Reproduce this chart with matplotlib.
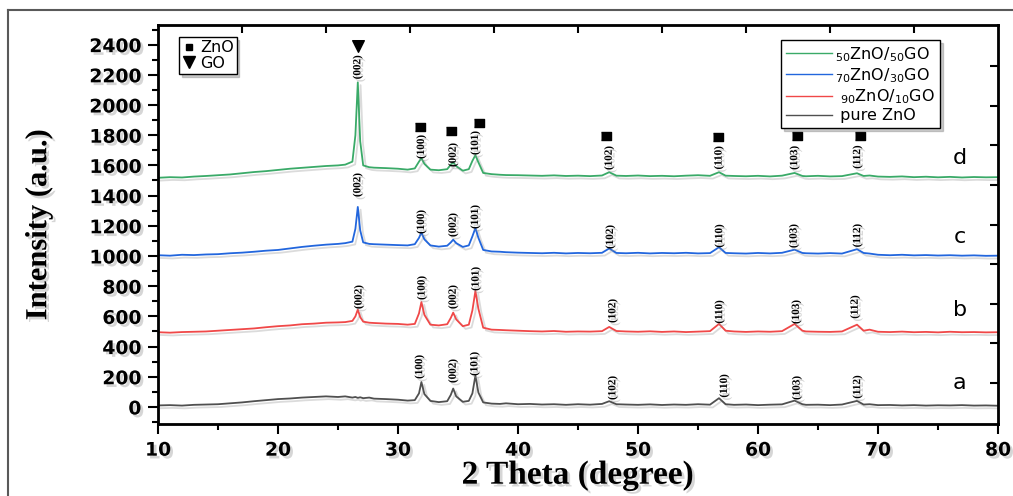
import matplotlib
matplotlib.use("Agg")
import matplotlib.pyplot as plt
import matplotlib.patheffects as pe
from matplotlib.lines import Line2D
from matplotlib.ticker import MultipleLocator

# 2 theta grid (degree), shared by all four patterns
two_theta = [10, 11, 12, 13, 14, 15, 16, 17, 18, 19, 20, 21, 22, 23, 24, 25,
             25.6, 26.2, 26.45, 26.65, 26.85, 27.1, 27.6,
             28, 29, 30,
             30.8, 31.4, 31.75, 31.95, 32.2, 32.7, 33.4,
             34.1, 34.4, 34.6, 34.85, 35.4, 35.9,
             36.2, 36.45, 36.7, 37.1, 37.8, 38.5, 39,
             40, 41, 42, 43, 44, 45, 46, 47,
             47.6, 48.2,
             49, 50, 51, 52, 53, 54, 55, 56,
             56.75, 57.3,
             58, 59, 60, 61, 62,
             63.05, 63.7,
             64, 65, 66, 67,
             68.25, 68.8, 69.3,
             70, 71, 72, 73, 74, 75, 76, 77, 78, 79, 80]

# (a) pure ZnO
pure_zno = [10, 12, 9, 14, 16, 18, 24, 30, 38, 45, 52, 56, 62, 66, 70, 66,
            70, 62, 66, 60, 64, 58, 62,
            55, 52, 48,
            42, 45, 90, 165, 85, 40, 32,
            38, 80, 122, 70, 34, 40,
            90, 208, 95, 30, 22, 20, 24,
            18, 20, 16, 18, 14, 18, 15, 20,
            38, 18,
            16, 14, 17, 13, 16, 14, 18, 15,
            58, 18,
            14, 16, 12, 15, 17,
            42, 18,
            14, 15, 12, 16,
            40, 16, 18,
            12, 13, 10, 12, 9, 11, 10, 12, 9, 10, 8]

# (b) 90ZnO/10GO
zno90_go10 = [495, 492, 496, 498, 500, 505, 510, 515, 520, 528, 535, 540, 548, 552, 558, 560,
              562, 570, 600, 645, 595, 565, 558,
              556, 552, 550,
              545, 550, 620, 695, 610, 545, 540,
              548, 590, 625, 580, 535, 545,
              640, 768, 650, 525, 512, 510, 508,
              505, 502, 500, 503, 498, 500, 499, 502,
              530, 503,
              500, 498, 501, 497, 500, 496, 499, 502,
              550, 505,
              500, 497, 500, 498, 502,
              550, 505,
              500, 498, 497, 500,
              545, 505, 512,
              498, 496, 499, 495, 497, 494, 498, 495, 496, 494, 495]

# (c) 70ZnO/30GO
zno70_go30 = [1005, 1002, 1008, 1006, 1010, 1012, 1018, 1022, 1028, 1035, 1040, 1050, 1060, 1068, 1075, 1080,
              1085, 1095, 1180, 1325, 1170, 1090, 1080,
              1078, 1075, 1072,
              1070, 1078, 1120, 1155, 1110, 1070, 1062,
              1068, 1090, 1108, 1085, 1060, 1070,
              1130, 1185, 1120, 1040, 1030, 1028, 1025,
              1022, 1020, 1018, 1021, 1017, 1020, 1018, 1021,
              1050, 1020,
              1018, 1021, 1017, 1020, 1018, 1021, 1017, 1019,
              1058, 1020,
              1018, 1016, 1020, 1017, 1021,
              1042, 1020,
              1018, 1016, 1019, 1016,
              1045, 1020, 1016,
              1008, 1005, 1008, 1004, 1006, 1003, 1005, 1002, 1004, 1001, 1002]

# (d) 50ZnO/50GO
zno50_go50 = [1518, 1522, 1520, 1526, 1530, 1535, 1540, 1548, 1556, 1562, 1570, 1578, 1584, 1590, 1596, 1600,
              1605, 1625, 1800, 2150, 1760, 1600, 1588,
              1585, 1582, 1578,
              1572, 1580, 1625, 1648, 1610, 1572, 1568,
              1575, 1605, 1620, 1595, 1565, 1575,
              1630, 1668, 1620, 1550, 1542, 1538, 1536,
              1535, 1533, 1531, 1534, 1530, 1532, 1529, 1533,
              1555, 1532,
              1530, 1533, 1529, 1531, 1528, 1532, 1535, 1531,
              1555, 1532,
              1530, 1528, 1531, 1527, 1532,
              1550, 1530,
              1528, 1531, 1527, 1529,
              1548, 1530, 1533,
              1526, 1524, 1527, 1522, 1525, 1521, 1524, 1520, 1523, 1521, 1522]

series_labels = ["$_{50}$ZnO/$_{50}$GO", "$_{70}$ZnO/$_{30}$GO", " $_{90}$ZnO/$_{10}$GO", " pure ZnO"]
series_colors = ["#3aaa68", "#2266dd", "#f04848", "#505050"]
curve_letters = ["d", "c", "b", "a"]
letter_y = [1649, 1126, 642, 159]

# Miller index labels (text, 2theta, intensity)
hkl_d = [("(002)", 26.65, 2250), ("(100)", 31.95, 1722), ("(002)", 34.6, 1669), ("(101)", 36.45, 1748),
         ("(102)", 47.6, 1649), ("(110)", 56.75, 1650), ("(103)", 63.05, 1650), ("(112)", 68.3, 1655)]
hkl_c = [("(002)", 26.65, 1470), ("(100)", 31.95, 1225), ("(002)", 34.6, 1205), ("(101)", 36.45, 1258),
         ("(102)", 47.7, 1126), ("(110)", 56.8, 1132), ("(103)", 63.0, 1132), ("(112)", 68.3, 1135)]
hkl_b = [("(002)", 26.75, 728), ("(100)", 32.0, 788), ("(002)", 34.6, 728), ("(101)", 36.5, 848),
         ("(102)", 47.9, 636), ("(110)", 56.8, 629), ("(103)", 63.2, 629), ("(112)", 68.1, 662)]
hkl_a = [("(100)", 31.8, 265), ("(002)", 34.6, 238), ("(101)", 36.4, 285),
         ("(102)", 47.9, 126), ("(110)", 57.2, 139), ("(103)", 63.25, 126), ("(112)", 68.3, 132)]

# phase markers above pattern d
zno_mark_x = [31.8, 34.4, 36.75, 47.3, 56.7, 63.25, 68.5]
zno_mark_y = [1854, 1828, 1881, 1795, 1788, 1795, 1795]
go_mark_x = [26.67]
go_mark_y = [2390]

W, H = 1013, 496
fig = plt.figure(figsize=(W / 100, H / 100), dpi=100)
ax = fig.add_axes([158 / W, (H - 424) / H, 840 / W, 399 / H])

line_fx = [pe.SimpleLineShadow(offset=(2, -2), shadow_color="0.6", alpha=0.35), pe.Normal()]
text_fx = [pe.withSimplePatchShadow(offset=(2, -2), shadow_rgbFace="0.55", alpha=0.35)]

all_series = [zno50_go50, zno70_go30, zno90_go10, pure_zno]
for ys, lab, col in zip(all_series, series_labels, series_colors):
    ax.plot(two_theta, ys, color=col, lw=1.3, label=lab, path_effects=line_fx)

for lst in (hkl_d, hkl_c, hkl_b, hkl_a):
    for txt, xx, yy in lst:
        ax.text(xx, yy, txt, rotation=90, ha="center", va="center", fontsize=8,
                family="Liberation Serif", fontweight="bold", path_effects=text_fx)

for let, yy in zip(curve_letters, letter_y):
    ax.text(76.8, yy, let, ha="center", va="center", fontsize=16, family="DejaVu Sans")

rect = [(-1.4, -1), (1.4, -1), (1.4, 1), (-1.4, 1)]
ax.scatter(zno_mark_x, zno_mark_y, marker=rect, s=55, color="black", zorder=5)
ax.scatter(go_mark_x, go_mark_y, marker="v", s=70, color="black", zorder=5)

ax.set_xlim(10, 80)
ax.set_ylim(-113, 2530)
ax.xaxis.set_major_locator(MultipleLocator(10))
ax.xaxis.set_minor_locator(MultipleLocator(5))
ax.yaxis.set_major_locator(MultipleLocator(200))
ax.yaxis.set_minor_locator(MultipleLocator(100))
ax.set_yticks(range(0, 2401, 200))
ax.tick_params(which="both", direction="out", width=1.5, pad=5)
ax.tick_params(which="major", length=7)
ax.tick_params(which="minor", length=4)
for sp in ax.spines.values():
    sp.set_linewidth(2)
for lbl in ax.get_xticklabels() + ax.get_yticklabels():
    lbl.set_fontfamily("DejaVu Sans")
    lbl.set_fontweight("bold")
    lbl.set_fontsize(13.5)
    lbl.set_path_effects(text_fx)

# mirrored ticks on top and right
axr = ax.twinx()
axr.set_ylim(-1.035, 9.04)
axr.set_yticks(range(0, 9))
axr.tick_params(direction="in", length=6, width=1.5, labelright=False)
axt = ax.twiny()
axt.set_xlim(0, 10)
axt.set_xticks(range(1, 10))
axt.tick_params(direction="in", length=6, width=1.5, labeltop=False)

ax.set_xlabel("2 Theta (degree)", family="Liberation Serif", fontweight="bold", fontsize=24,
              labelpad=0, path_effects=text_fx)
ax.set_ylabel("Intensity (a.u.)", family="Liberation Serif", fontweight="bold", fontsize=22,
              labelpad=26, path_effects=text_fx)

leg = ax.legend(loc="upper right", bbox_to_anchor=(0.931, 0.962), borderaxespad=0, fontsize=11.5,
                handlelength=2.9, handletextpad=0.2, labelspacing=0.15, borderpad=0.3,
                fancybox=False, edgecolor="black", framealpha=1,
                shadow={"color": "0.5", "alpha": 0.4})
leg.get_frame().set_linewidth(1.0)
for h in leg.get_lines():
    h.set_linewidth(1.0)
    h.set_path_effects([])

phase_handles = [Line2D([], [], ls="none", marker="s", ms=5, color="black"),
                 Line2D([], [], ls="none", marker="v", ms=9, color="black")]
leg2 = fig.legend(phase_handles, ["ZnO", "GO"], loc="upper left",
                  bbox_to_anchor=(179 / W, 1 - 37 / H), borderaxespad=0, fontsize=11.5,
                  handlelength=0.8, handletextpad=0.3, labelspacing=0.05, borderpad=0.2,
                  fancybox=False, edgecolor="black", framealpha=1,
                  shadow={"color": "0.5", "alpha": 0.4})
leg2.get_frame().set_linewidth(1.0)

# outer frame of the figure panel
fig.add_artist(Line2D([8 / W, 8 / W], [0, 1 - 10 / H], transform=fig.transFigure, color="0.35", lw=1.5))
fig.add_artist(Line2D([8 / W, 1], [1 - 10 / H, 1 - 10 / H], transform=fig.transFigure, color="0.35", lw=1.5))

fig.savefig("out.png", dpi=100)
